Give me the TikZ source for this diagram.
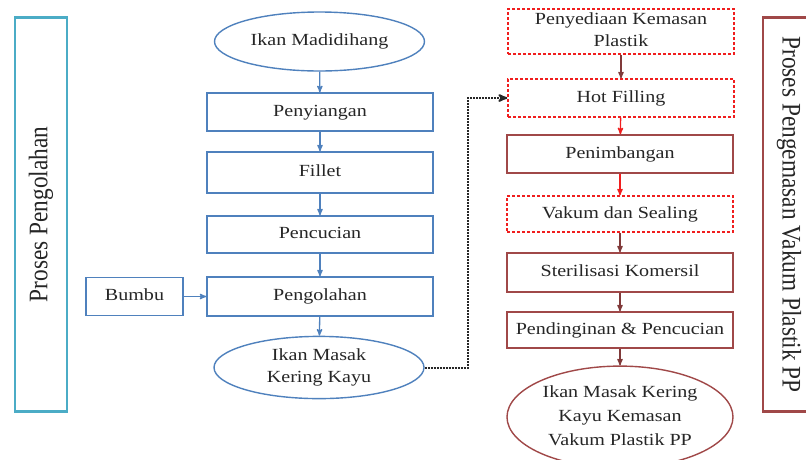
\documentclass[tikz,border=0pt]{standalone}
\usepackage{fontspec}
\setmainfont{Liberation Serif}
\usepackage{graphicx}
\usetikzlibrary{arrows}
\usetikzlibrary{shapes}

\definecolor{boxblue}{RGB}{79,129,189}
\definecolor{sideteal}{RGB}{75,172,198}
\definecolor{boxbrown}{RGB}{160,72,72}
\definecolor{boxred}{RGB}{240,30,30}

% wide serif label, lines centred
\newcommand{\lbl}[1]{\scalebox{1.18}[1]{\begin{tabular}{@{}c@{}}#1\end{tabular}}}

\begin{document}
\begin{tikzpicture}[x=1pt,y=-1pt,>=stealth',thick,
  every node/.style={font=\fontsize{17}{22}\selectfont, inner sep=0pt, align=center, fill=white, text=black!85},
  bluebox/.style={draw=boxblue, line width=1.4pt, minimum width=226pt, minimum height=38pt},
  blueoval/.style={ellipse, draw=boxblue, line width=1.4pt, minimum width=210pt, minimum height=59pt},
  redbox/.style={draw=boxbrown, line width=1.4pt, minimum width=226pt, minimum height=38pt},
  reddash/.style={draw=boxred, line width=1.3pt, dash pattern=on 3pt off 2pt, minimum width=226pt, minimum height=38pt},
  redoval/.style={ellipse, draw=boxbrown, line width=1.4pt, minimum width=226pt, minimum height=86pt},
  sidebox/.style={line width=2.5pt, minimum width=394pt, minimum height=52pt, font=\fontsize{23.3}{26}\selectfont}]
  \clip (0,0) rectangle (806,459);

  % side labels
  \node[sidebox, draw=sideteal, rotate=90] (left) at (41,214.5) {\scalebox{1}[1.15]{Proses Pengolahan}};
  \node[sidebox, draw=boxbrown, rotate=-90] (right) at (789,214.5) {\scalebox{1}[1.15]{Proses Pengemasan Vakum Plastik PP}};

  % pengolahan
  \node[blueoval] (p1) at (319.5,41.5) {\lbl{Ikan Madidihang}};
  \node[bluebox] (p2) at (320,112) {\lbl{Penyiangan}};
  \node[bluebox, minimum height=41pt] (p3) at (320,172.5) {\lbl{Fillet}};
  \node[bluebox, minimum height=37pt] (p4) at (320,234.5) {\lbl{Pencucian}};
  \node[bluebox, minimum height=39pt] (p5) at (320,296.5) {\lbl{Pengolahan}};
  \node[bluebox, minimum width=97pt] (bumbu) at (134.5,296.5) {\lbl{Bumbu}};
  \node[blueoval, minimum height=61pt] (p6) at (319,367.5) {\lbl{Ikan Masak\\Kering Kayu}};

  % pengemasan
  \node[reddash, minimum height=45pt] (k1) at (621,31.5) {\lbl{Penyediaan Kemasan\\Plastik}};
  \node[reddash] (k2) at (621,98) {\lbl{Hot Filling}};
  \node[redbox] (k3) at (620,154) {\lbl{Penimbangan}};
  \node[reddash, minimum height=36pt] (k4) at (620,214) {\lbl{Vakum dan Sealing}};
  \node[redbox, minimum height=39pt] (k5) at (620,272.5) {\lbl{Sterilisasi Komersil}};
  \node[redbox, minimum height=36pt] (k6) at (620,330) {\lbl{Pendinginan \& Pencucian}};
  \node[redoval, font=\fontsize{17}{24}\selectfont] (k7) at (620,417) {\lbl{Ikan Masak Kering\\Kayu Kemasan\\Vakum Plastik PP}};

  \foreach \from/\to in {p1/p2,p2/p3,p3/p4,p4/p5,p5/p6,bumbu/p5}
    \draw[->, boxblue, line width=1.3pt] (\from) -- (\to);

  \foreach \from/\to/\col in {k1/k2/boxbrown!80!black,k2/k3/boxred,k3/k4/boxred,k4/k5/boxbrown!80!black,k5/k6/boxbrown!80!black,k6/k7/boxbrown!80!black}
    \draw[->, \col, line width=1.3pt] (\from) -- (\to);

  \draw[->, dash pattern=on 2pt off 1pt, line width=2pt, black!85] (p6.east) -- ++(43,0) |- (k2.west);

\end{tikzpicture}
\end{document}
